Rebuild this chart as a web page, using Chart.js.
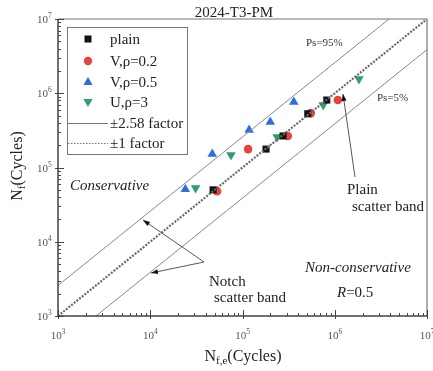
<!DOCTYPE html>
<html><head><meta charset="utf-8">
<script src="https://cdn.jsdelivr.net/npm/chart.js@4.4.0/dist/chart.umd.min.js"></script>
<style>html,body{margin:0;padding:0;background:#fff}#wrap{width:433px;height:371px;position:relative}</style>
</head><body><div id="wrap"><canvas id="c"></canvas></div>
<script>
// ---- data ----
const plainX = [4.8e4, 1.80e5, 2.75e5, 5.1e5, 8.2e5];
const plainY = [5.0e4, 1.77e5, 2.66e5, 5.3e5, 8.1e5];
const v02X = [5.3e4, 1.15e5, 3.1e5, 5.5e5, 1.08e6];
const v02Y = [4.8e4, 1.77e5, 2.66e5, 5.4e5, 8.1e5];
const v05X = [2.4e4, 4.7e4, 1.18e5, 2.0e5, 3.6e5];
const v05Y = [5.1e4, 1.52e5, 3.2e5, 4.1e5, 7.6e5];
const u3X = [3.1e4, 7.5e4, 2.37e5, 7.5e5, 1.83e6];
const u3Y = [5.3e4, 1.47e5, 2.58e5, 6.95e5, 1.56e6];
const upperBandX = [1e3, 3.876e6];
const upperBandY = [2.58e3, 1e7];
const lowerBandX = [2.58e3, 1e7];
const lowerBandY = [1e3, 3.876e6];
const unityX = [1e3, 1e7];
const unityY = [1e3, 1e7];
const decadeTicks = [1e3, 1e4, 1e5, 1e6, 1e7];
const decadeExp = ['3', '4', '5', '6', '7'];
const seriesNames = ['plain', 'V,\u03c1=0.2', 'V,\u03c1=0.5', 'U,\u03c1=3', '\u00b12.58 factor', '\u00b11 factor'];
const titleText = '2024-T3-PM';

const pts = (xs, ys) => xs.map((x, i) => ({x, y: ys[i]}));
const SERIF = "'Liberation Serif','Times New Roman',serif";
const RED = '#e8433f', BLUE = '#2b6fd9', GREEN = '#2fa06c';

const drawer = {
  id: 'drawer',
  afterDraw(chart) {
    const ctx = chart.ctx, xs = chart.scales.x, ys = chart.scales.y, a = chart.chartArea;
    ctx.save();
    // frame
    ctx.strokeStyle = '#777'; ctx.lineWidth = 1.2;
    ctx.beginPath(); ctx.moveTo(a.left, a.top); ctx.lineTo(a.right, a.top); ctx.lineTo(a.right, a.bottom); ctx.stroke();
    ctx.strokeStyle = '#444'; ctx.lineWidth = 1.5;
    ctx.beginPath(); ctx.moveTo(a.left, a.top); ctx.lineTo(a.left, a.bottom); ctx.lineTo(a.right, a.bottom); ctx.stroke();
    // ticks
    ctx.lineWidth = 1; ctx.strokeStyle = '#444';
    for (let d = 0; d < decadeTicks.length; d++) {
      for (let m = 1; m <= 9; m++) {
        const v = decadeTicks[d] * m;
        if (v > 1e7) break;
        const major = m === 1;
        const L = major ? 6 : 3;
        const px = Math.round(xs.getPixelForValue(v)) + 0.5;
        ctx.beginPath(); ctx.moveTo(px, a.bottom + (major ? 3 : 0)); ctx.lineTo(px, a.bottom - L); ctx.stroke();
        const py = Math.round(ys.getPixelForValue(v)) + 0.5;
        ctx.beginPath(); ctx.moveTo(a.left - (major ? 3 : 0), py); ctx.lineTo(a.left + L, py); ctx.stroke();
      }
    }
    // tick labels
    ctx.fillStyle = '#555'; ctx.textBaseline = 'alphabetic';
    const big = '11px ' + SERIF, small = '7.5px ' + SERIF;
    decadeTicks.forEach((v, i) => {
      ctx.font = big; const w1 = ctx.measureText('10').width;
      ctx.font = small; const w2 = ctx.measureText(decadeExp[i]).width;
      // x axis
      const px = xs.getPixelForValue(v);
      const x0 = px - (w1 + w2) / 2;
      ctx.font = big; ctx.textAlign = 'left'; ctx.fillText('10', x0, 339);
      ctx.font = small; ctx.fillText(decadeExp[i], x0 + w1, 334);
      // y axis
      const py = ys.getPixelForValue(v);
      ctx.font = big; ctx.fillText('10', 48 - w1, py + 4);
      ctx.font = small; ctx.fillText(decadeExp[i], 48, py - 1);
    });
    // title
    ctx.fillStyle = '#222'; ctx.font = '15px ' + SERIF; ctx.textAlign = 'center';
    ctx.fillText(titleText, 234, 17);
    // axis titles
    const lab = '16px ' + SERIF, sub = '11px ' + SERIF;
    function richWidth(parts) { let w = 0; parts.forEach(p => { ctx.font = p[1]; w += ctx.measureText(p[0]).width; }); return w; }
    function drawRich(parts, cx, cy) {
      const w = richWidth(parts); let x = cx - w / 2;
      ctx.textAlign = 'left';
      parts.forEach(p => { ctx.font = p[1]; ctx.fillText(p[0], x, cy + p[2]); x += ctx.measureText(p[0]).width; });
    }
    ctx.fillStyle = '#222';
    drawRich([['N', lab, 0], ['f,e', sub, 3], ['(Cycles)', lab, 0]], 243, 361);
    ctx.save(); ctx.translate(22, 166); ctx.rotate(-Math.PI / 2);
    drawRich([['N', lab, 0], ['f', sub, 3], ['(Cycles)', lab, 0]], 0, 0);
    ctx.restore();
    // legend
    ctx.strokeStyle = '#777'; ctx.lineWidth = 1;
    ctx.strokeRect(67.5, 27.5, 120, 127);
    const rows = [39, 61, 82, 102, 123, 143];
    const mx = 88;
    ctx.fillStyle = '#111'; ctx.fillRect(mx - 3.5, rows[0] - 3.5, 7, 7);
    ctx.fillStyle = RED; ctx.beginPath(); ctx.arc(mx, rows[1], 4.2, 0, Math.PI * 2); ctx.fill();
    ctx.fillStyle = BLUE; ctx.beginPath(); ctx.moveTo(mx, rows[2] - 5); ctx.lineTo(mx + 4.6, rows[2] + 3); ctx.lineTo(mx - 4.6, rows[2] + 3); ctx.closePath(); ctx.fill();
    ctx.fillStyle = GREEN; ctx.beginPath(); ctx.moveTo(mx, rows[3] + 5); ctx.lineTo(mx + 4.6, rows[3] - 3); ctx.lineTo(mx - 4.6, rows[3] - 3); ctx.closePath(); ctx.fill();
    ctx.strokeStyle = '#777'; ctx.lineWidth = 1;
    ctx.beginPath(); ctx.moveTo(68, rows[4] + 0.5); ctx.lineTo(108, rows[4] + 0.5); ctx.stroke();
    ctx.setLineDash([1.5, 1.5]);
    ctx.beginPath(); ctx.moveTo(68, rows[5] + 0.5); ctx.lineTo(108, rows[5] + 0.5); ctx.stroke();
    ctx.setLineDash([]);
    ctx.fillStyle = '#222'; ctx.font = '15px ' + SERIF; ctx.textAlign = 'left';
    seriesNames.forEach((n, i) => ctx.fillText(n, 110, rows[i] + 5));
    // annotations
    ctx.font = '11px ' + SERIF; ctx.fillStyle = '#333';
    ctx.fillText('Ps=95%', 306, 46);
    ctx.fillText('Ps=5%', 377, 101);
    ctx.font = 'italic 15px ' + SERIF; ctx.fillStyle = '#222';
    ctx.fillText('Conservative', 70, 190);
    ctx.fillText('Non-conservative', 305, 272);
    ctx.fillText('R', 337, 297);
    const rw = ctx.measureText('R').width;
    ctx.font = '15px ' + SERIF; ctx.fillText('=0.5', 337 + rw, 297);
    ctx.fillText('Plain', 347, 194);
    ctx.fillText('scatter band', 352, 211);
    ctx.fillText('Notch', 209, 286);
    ctx.fillText('scatter band', 214, 302);
    // arrows
    function arrow(x1, y1, x2, y2) {
      ctx.strokeStyle = '#444'; ctx.fillStyle = '#111'; ctx.lineWidth = 0.9;
      ctx.beginPath(); ctx.moveTo(x1, y1); ctx.lineTo(x2, y2); ctx.stroke();
      const ang = Math.atan2(y2 - y1, x2 - x1), L = 7, W = 2.5;
      ctx.beginPath(); ctx.moveTo(x2, y2);
      ctx.lineTo(x2 - L * Math.cos(ang) + W * Math.sin(ang), y2 - L * Math.sin(ang) - W * Math.cos(ang));
      ctx.lineTo(x2 - L * Math.cos(ang) - W * Math.sin(ang), y2 - L * Math.sin(ang) + W * Math.cos(ang));
      ctx.closePath(); ctx.fill();
    }
    arrow(355, 177, 343, 94);
    arrow(204, 262, 143, 220);
    arrow(204, 262, 151, 273);
    ctx.restore();
  }
};

new Chart(document.getElementById('c'), {
  type: 'scatter',
  data: {
    datasets: [
      {label: 'upper', data: pts(upperBandX, upperBandY), showLine: true, borderColor: '#888', borderWidth: 1, pointRadius: 0},
      {label: 'lower', data: pts(lowerBandX, lowerBandY), showLine: true, borderColor: '#888', borderWidth: 1, pointRadius: 0},
      {label: 'unity', data: pts(unityX, unityY), showLine: true, borderColor: '#6a6a6a', borderWidth: 2.2, borderDash: [2, 1.4], pointRadius: 0},
      {label: seriesNames[0], data: pts(plainX, plainY), pointStyle: 'rect', pointRadius: 5, backgroundColor: '#111', borderColor: '#111', borderWidth: 0},
      {label: seriesNames[1], data: pts(v02X, v02Y), pointStyle: 'circle', pointRadius: 4.3, backgroundColor: RED, borderColor: RED, borderWidth: 0},
      {label: seriesNames[2], data: pts(v05X, v05Y), pointStyle: 'triangle', pointRadius: 5.5, backgroundColor: BLUE, borderColor: BLUE, borderWidth: 0},
      {label: seriesNames[3], data: pts(u3X, u3Y), pointStyle: 'triangle', rotation: 180, pointRadius: 5.5, backgroundColor: GREEN, borderColor: GREEN, borderWidth: 0}
    ]
  },
  options: {
    responsive: true, maintainAspectRatio: false, animation: false,
    layout: {padding: {left: 58, right: 6, top: 19, bottom: 55}},
    plugins: {legend: {display: false}, title: {display: false}, tooltip: {enabled: false}},
    scales: {
      x: {type: 'logarithmic', min: 1e3, max: 1e7, display: false},
      y: {type: 'logarithmic', min: 1e3, max: 1e7, display: false}
    }
  },
  plugins: [drawer]
});
</script></body></html>
